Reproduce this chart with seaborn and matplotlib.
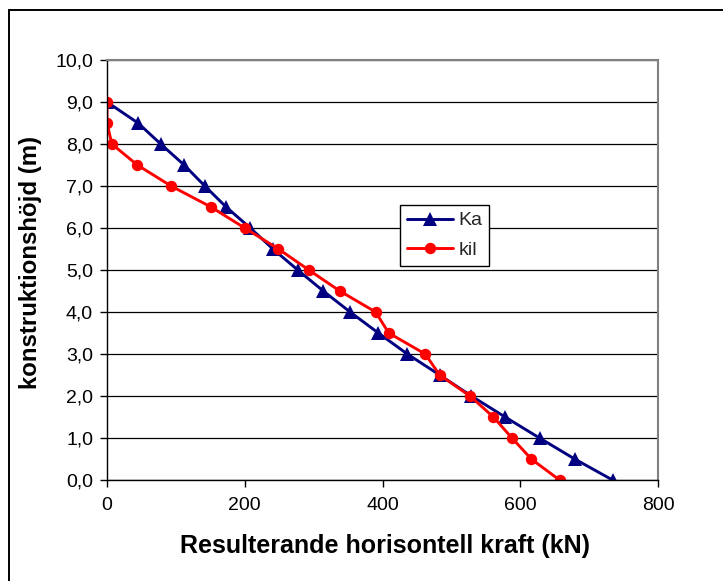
import matplotlib
matplotlib.use("Agg")
import matplotlib.pyplot as plt
from matplotlib.lines import Line2D
from matplotlib.ticker import FuncFormatter, MultipleLocator
import seaborn as sns
import pandas as pd

# Resulting horizontal force (kN) versus construction height (m)
height = [9.0, 8.5, 8.0, 7.5, 7.0, 6.5, 6.0, 5.5, 5.0, 4.5,
          4.0, 3.5, 3.0, 2.5, 2.0, 1.5, 1.0, 0.5, 0.0]
force_ka = [0, 45, 78, 112, 142, 173, 208, 241, 277, 314,
            353, 394, 436, 483, 529, 578, 628, 679, 734]
force_kil = [0, 0, 7, 44, 93, 151, 200, 249, 293, 338,
             390, 409, 462, 483, 527, 561, 588, 616, 657]
series_names = ["Ka", "kil"]
series_colors = {"Ka": "#000080", "kil": "#FF0000"}
series_markers = {"Ka": "^", "kil": "o"}

x_ticks = [0, 200, 400, 600, 800]
x_label = "Resulterande horisontell kraft (kN)"
y_label = "konstruktionshöjd (m)"

df = pd.concat([
    pd.DataFrame({"kraft": force_ka, "hojd": height, "serie": "Ka"}),
    pd.DataFrame({"kraft": force_kil, "hojd": height, "serie": "kil"}),
], ignore_index=True)

sns.set_theme(style="white")
plt.rcParams["font.family"] = ["Liberation Sans", "DejaVu Sans"]

fig = plt.figure(figsize=(7.23, 5.81), dpi=100)
W, H = 723, 581
ax = fig.add_axes([107 / W, 1 - 480 / H, (658 - 107) / W, (480 - 60) / H])

sns.lineplot(
    data=df, x="kraft", y="hojd", hue="serie", style="serie",
    hue_order=series_names, style_order=series_names,
    palette=series_colors, markers=series_markers, dashes=False,
    sort=False, estimator=None, linewidth=2.1, markersize=9.5,
    markeredgewidth=0, ax=ax,
)
# circles a little smaller than the triangles
for line in ax.get_lines():
    if line.get_marker() == "o":
        line.set_markersize(8.2)

ax.set_xlim(0, 800)
ax.set_ylim(0, 10)
ax.set_xticks(x_ticks)
ax.yaxis.set_major_locator(MultipleLocator(1))
ax.yaxis.set_major_formatter(FuncFormatter(lambda v, p: f"{v:.1f}".replace(".", ",")))
ax.xaxis.set_major_formatter(FuncFormatter(lambda v, p: f"{v:.0f}"))

ax.grid(axis="y", color="#000000", linewidth=0.9)
ax.grid(axis="x", visible=False)
ax.set_axisbelow(True)

for side in ("left", "bottom"):
    ax.spines[side].set_color("#000000")
    ax.spines[side].set_linewidth(1.0)
for side in ("top", "right"):
    ax.spines[side].set_color("#808080")
    ax.spines[side].set_linewidth(1.5)

ax.tick_params(axis="both", which="major", direction="out", length=5,
               width=1.0, color="#000000", labelsize=14, labelcolor="#000000",
               left=True, bottom=True)
ax.tick_params(axis="y", pad=5)
ax.tick_params(axis="x", pad=7)

ax.set_xlabel(x_label, fontsize=18, fontweight="bold", color="#000000")
ax.set_ylabel(y_label, fontsize=17.3, fontweight="bold", color="#000000",
              va="center")
ax.xaxis.set_label_coords(0.505, -0.128)
ax.yaxis.set_label_coords((31 - 107) / 551, 0.517)

leg = ax.legend(
    loc="upper left", bbox_to_anchor=((400 - 107) / 551, (480 - 205) / 420),
    frameon=True, fancybox=False, edgecolor="#000000", framealpha=1,
    fontsize=14, handlelength=2.4, handletextpad=0.25, borderpad=0.35,
    labelspacing=0.6, borderaxespad=0, title=None,
)
leg.get_frame().set_linewidth(1.0)

# outer chart frame (top and left edges fall inside the canvas)
fig.add_artist(Line2D([9 / W, 1.0], [1 - 10 / H, 1 - 10 / H], color="#000000", linewidth=1.4))
fig.add_artist(Line2D([9 / W, 9 / W], [0.0, 1 - 10 / H], color="#000000", linewidth=1.4))

fig.savefig("out.png", dpi=100, facecolor="white")
